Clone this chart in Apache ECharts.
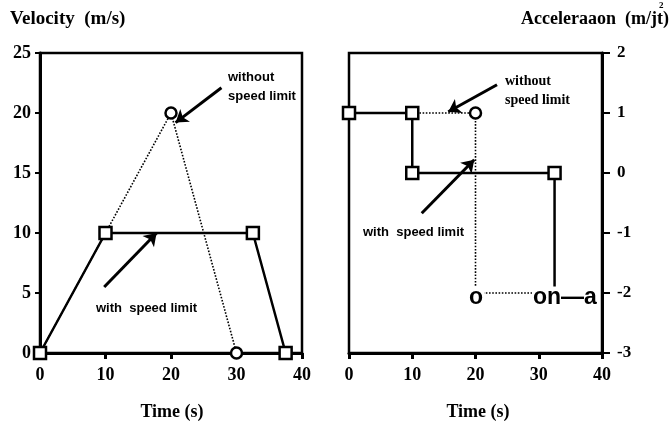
<!DOCTYPE html>
<html><head><meta charset="utf-8">
<script src="https://cdn.jsdelivr.net/npm/echarts@6/dist/echarts.min.js"></script>
<style>html,body{margin:0;background:#fff}#c{width:671px;height:436px}</style>
</head><body><div id="c"></div>
<script>
// ---- data ----
const timeTicks = [0, 10, 20, 30, 40];
const velTicks = [0, 5, 10, 15, 20, 25];
const accTicks = [-3, -2, -1, 0, 1, 2];
const velWithT = [0, 10, 32.5, 37.5];
const velWithV = [0, 10, 10, 0];
const velWithoutT = [0, 20, 30];
const velWithoutV = [0, 20, 0];
const accWithT = [0, 10, 10, 32.5, 32.5, 37.5];
const accWithV = [1, 1, 0, 0, -2, -2];
const accWithoutT = [0, 10, 20, 20, 30];
const accWithoutV = [1, 1, 1, -2, -2];

const SERIF = '"Liberation Serif","DejaVu Serif",serif';
const SANS = '"Liberation Sans",Arial,sans-serif';

function pts(ts, vs, showFn) {
  return ts.map((t, i) => {
    const item = { value: [t, vs[i]] };
    if (showFn && !showFn(vs[i], i)) item.symbol = 'none';
    return item;
  });
}

const markerStyle = { color: '#fff', borderColor: '#000', borderWidth: 2.5 };
const arrowLine = (a, b) => [{ coord: a }, { coord: b }];
const arrowCommon = {
  silent: true, symbol: ['none', 'arrow'], symbolSize: 12,
  label: { show: false }, lineStyle: { color: '#000', width: 3, type: 'solid' },
  emphasis: { disabled: true }
};

const xAxisCommon = {
  type: 'value', min: 0, max: 40, interval: 10,
  axisLine: { show: true, onZero: false, lineStyle: { color: '#000', width: 3 } },
  axisTick: { show: true, inside: false, length: 6, lineStyle: { color: '#000', width: 3 } },
  axisLabel: { color: '#000', fontFamily: SERIF, fontWeight: 'bold', fontSize: 18, margin: 13,
    formatter: v => timeTicks.includes(v) ? String(v) : '' },
  splitLine: { show: false }
};

const chart = echarts.init(document.getElementById('c'));
chart.setOption({
  animation: false,
  backgroundColor: '#fff',
  grid: [
    { left: 40, right: 369, top: 53, bottom: 83, show: true, borderColor: '#000', borderWidth: 2.5 },
    { left: 349, right: 69, top: 53, bottom: 83, show: true, borderColor: '#000', borderWidth: 2.5 }
  ],
  xAxis: [
    Object.assign({ gridIndex: 0 }, xAxisCommon),
    Object.assign({ gridIndex: 1 }, xAxisCommon)
  ],
  yAxis: [
    { gridIndex: 0, type: 'value', min: 0, max: 25, interval: 5, position: 'left',
      axisLine: { show: true, onZero: false, lineStyle: { color: '#000', width: 3 } },
      axisTick: { show: true, length: 5, lineStyle: { color: '#000', width: 2 } },
      axisLabel: { color: '#000', fontFamily: SERIF, fontWeight: 'bold', fontSize: 18, margin: 9,
        formatter: v => velTicks.includes(v) ? String(v) : '' },
      splitLine: { show: false } },
    { gridIndex: 1, type: 'value', min: -3, max: 2, interval: 1, position: 'right',
      axisLine: { show: true, onZero: false, lineStyle: { color: '#000', width: 3 } },
      axisTick: { show: true, length: 9, lineStyle: { color: '#000', width: 2, type: 'dashed' } },
      axisLabel: { color: '#000', fontFamily: SERIF, fontWeight: 'bold', fontSize: 17, margin: 15,
        formatter: v => accTicks.includes(v) ? String(v) : '' },
      splitLine: { show: false } }
  ],
  series: [
    { type: 'line', xAxisIndex: 0, yAxisIndex: 0, z: 2,
      data: pts(velWithoutT, velWithoutV),
      symbol: 'circle', symbolSize: 11, itemStyle: markerStyle,
      lineStyle: { color: '#000', width: 1.6, type: 'dotted' },
      markLine: Object.assign({ data: [arrowLine([20.7, 19.2], [27.7, 22.1]).reverse()] }, arrowCommon) },
    { type: 'line', xAxisIndex: 0, yAxisIndex: 0, z: 3,
      data: pts(velWithT, velWithV),
      symbol: 'rect', symbolSize: 12, itemStyle: markerStyle,
      lineStyle: { color: '#000', width: 2.5 },
      markLine: Object.assign({ data: [arrowLine([9.8, 5.5], [17.8, 10.0])] }, arrowCommon) },
    { type: 'line', xAxisIndex: 1, yAxisIndex: 1, z: 2,
      data: pts(accWithoutT, accWithoutV, (v, i) => v > -2 && i >= 2),
      symbol: 'circle', symbolSize: 11, itemStyle: markerStyle,
      lineStyle: { color: '#000', width: 1.6, type: 'dotted' },
      markLine: Object.assign({ data: [arrowLine([23.4, 1.47], [15.7, 1.02])] }, arrowCommon) },
    { type: 'line', xAxisIndex: 1, yAxisIndex: 1, z: 3,
      data: pts(accWithT, accWithV, v => v > -2),
      symbol: 'rect', symbolSize: 12, itemStyle: markerStyle,
      lineStyle: { color: '#000', width: 2.5 },
      markLine: Object.assign({ data: [arrowLine([11.5, -0.67], [19.8, 0.22])] }, arrowCommon) }
  ],
  graphic: [
    { type: 'text', z: 10, style: { text: 'Velocity  (m/s)', x: 10, y: 19, textVerticalAlign: 'middle',
      font: 'bold 19px ' + SERIF, fill: '#000' } },
    { type: 'text', z: 10, style: { text: 'Acceleraaon  (m/jt)', x: 669, y: 19, textAlign: 'right', textVerticalAlign: 'middle',
      font: 'bold 18px ' + SERIF, fill: '#000' } },
    { type: 'text', z: 10, style: { text: '2', x: 659, y: 6, textVerticalAlign: 'middle',
      font: 'bold 9px ' + SERIF, fill: '#000' } },
    { type: 'text', z: 10, style: { text: 'Time (s)', x: 172, y: 412, textAlign: 'center', textVerticalAlign: 'middle',
      font: 'bold 18px ' + SERIF, fill: '#000' } },
    { type: 'text', z: 10, style: { text: 'Time (s)', x: 478, y: 412, textAlign: 'center', textVerticalAlign: 'middle',
      font: 'bold 18px ' + SERIF, fill: '#000' } },
    { type: 'text', z: 10, style: { text: 'without', x: 228, y: 77, textVerticalAlign: 'middle',
      font: 'bold 13px ' + SANS, fill: '#000' } },
    { type: 'text', z: 10, style: { text: 'speed limit', x: 228, y: 96, textVerticalAlign: 'middle',
      font: 'bold 13px ' + SANS, fill: '#000' } },
    { type: 'text', z: 10, style: { text: 'with  speed limit', x: 96, y: 308, textVerticalAlign: 'middle',
      font: 'bold 13px ' + SANS, fill: '#000' } },
    { type: 'text', z: 10, style: { text: 'without', x: 505, y: 81, textVerticalAlign: 'middle',
      font: 'bold 14px ' + SERIF, fill: '#000' } },
    { type: 'text', z: 10, style: { text: 'speed limit', x: 505, y: 100, textVerticalAlign: 'middle',
      font: 'bold 14px ' + SERIF, fill: '#000' } },
    { type: 'text', z: 10, style: { text: 'with  speed limit', x: 363, y: 232, textVerticalAlign: 'middle',
      font: 'bold 13px ' + SANS, fill: '#000' } },
    { type: 'text', z: 10, style: { text: 'o', x: 476, y: 298, textAlign: 'center', textVerticalAlign: 'middle',
      font: 'bold 23px ' + SANS, fill: '#000', backgroundColor: '#fff', padding: [0, 1] } },
    { type: 'text', z: 10, style: { text: 'on\u2014a', x: 532, y: 298, textVerticalAlign: 'middle',
      font: 'bold 23px ' + SANS, fill: '#000', backgroundColor: '#fff', padding: [0, 1] } }
  ]
});
</script>
</body></html>
